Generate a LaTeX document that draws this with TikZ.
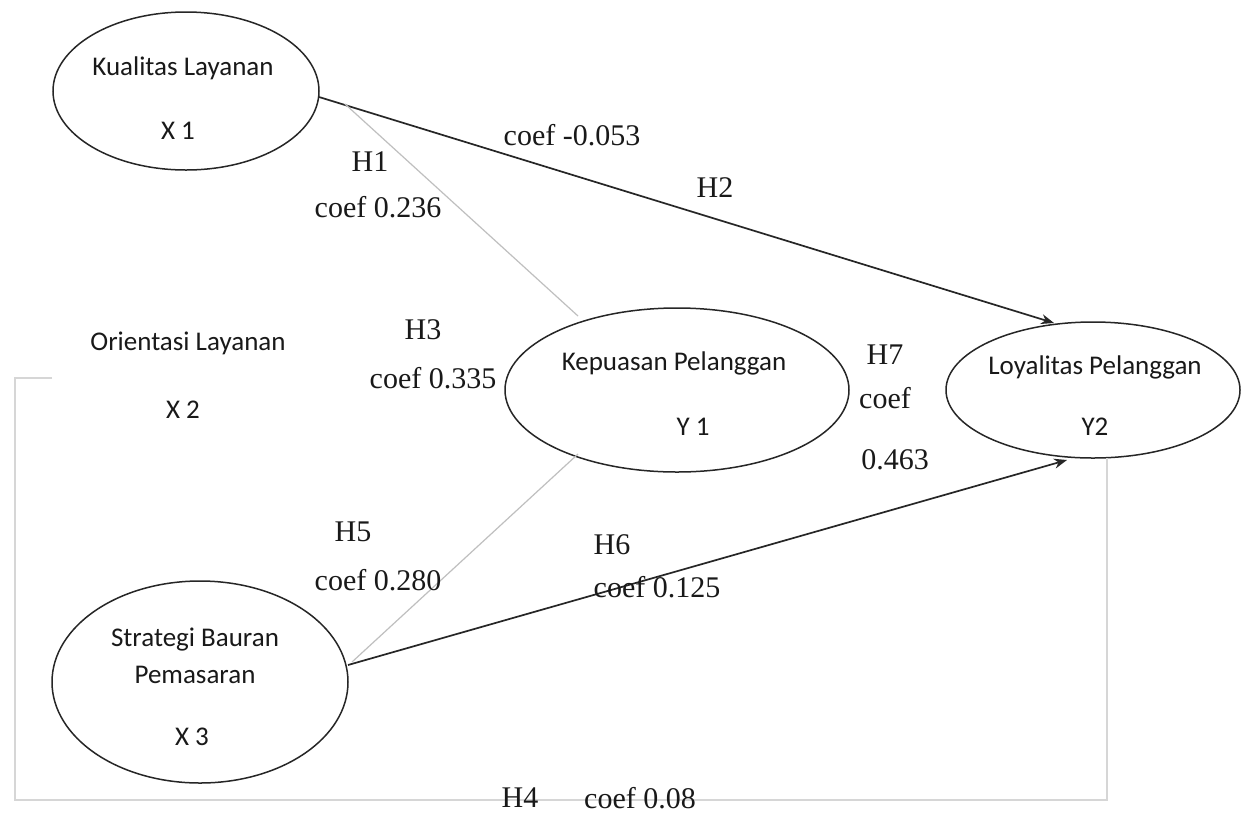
\documentclass[tikz,border=0pt]{standalone}
\usepackage{fontspec}
\setmainfont{Liberation Serif}
\newfontfamily\labelsans{Carlito}
\usetikzlibrary{arrows.meta}
\begin{document}
\begin{tikzpicture}[x=1pt,y=-1pt,
  outline/.style={draw=black!85,line width=1.5pt},
  vartext/.style={font=\labelsans\fontsize{27}{30}\selectfont,text=black!90},
  coeftext/.style={font=\fontsize{30}{33}\selectfont,text=black!90},
  strong/.style={draw=black!85,line width=1.7pt,-{Stealth[length=13pt,width=10pt]}},
  faint/.style={draw=black!25,line width=1.2pt},
  faintpath/.style={draw=black!16,line width=1.2pt}]
\useasboundingbox[fill=white] (0,0) rectangle (1242,815);

% latent constructs
\draw[outline] (186,91) ellipse [x radius=133, y radius=79];
\draw[outline] (677,390) ellipse [x radius=172, y radius=82];
\draw[outline] (1093,390) ellipse [x radius=147, y radius=68];
\draw[outline] (200,682) ellipse [x radius=148, y radius=101];

\node[vartext] (x1t) at (183,68) {Kualitas Layanan};
\node[vartext] (x1) at (178,131) {X 1};
\node[vartext] (x2t) at (188,343) {Orientasi Layanan};
\node[vartext] (x2) at (183,410) {X 2};
\node[vartext] (y1t) at (674,363) {Kepuasan Pelanggan};
\node[vartext] (y1) at (693,427) {Y 1};
\node[vartext] (y2t) at (1095,367) {Loyalitas Pelanggan};
\node[vartext] (y2) at (1095,427) {Y2};
\node[vartext] (x3a) at (195,640) {Strategi Bauran};
\node[vartext] (x3b) at (195,675) {Pemasaran};
\node[vartext] (x3) at (192,737) {X 3};

% anchor points on the ellipse outlines
\coordinate (x1e) at (319,97);
\coordinate (x1s) at (345,104);
\coordinate (y1n) at (578,316);
\coordinate (y1s) at (578,454);
\coordinate (y2n) at (1054,323);
\coordinate (y2s) at (1067,460);
\coordinate (y2b) at (1107,458);
\coordinate (x3e) at (348,665);
\coordinate (x3n) at (352,662);
\coordinate (h4a) at (52,378);
\coordinate (h4b) at (15,378);
\coordinate (h4c) at (15,800);
\coordinate (h4d) at (1107,800);

% paths
\draw[strong] (x1e) -- (y2n);
\draw[strong] (x3e) -- (y2s);
\draw[faint] (x1s) -- (y1n);
\draw[faint] (x3n) -- (y1s);
\draw[faintpath] (h4a) -- (h4b) -- (h4c) -- (h4d) -- (y2b);

% path labels
\node[coeftext] (l2a) at (572,135) {coef -0.053};
\node[coeftext] (l2b) at (715,188) {H2};
\node[coeftext] (l1a) at (370,162) {H1};
\node[coeftext] (l1b) at (378,207) {coef 0.236};
\node[coeftext] (l3a) at (423,330) {H3};
\node[coeftext] (l3b) at (433,378) {coef 0.335};
\node[coeftext] (l7a) at (885,355) {H7};
\node[coeftext] (l7b) at (885,398) {coef};
\node[coeftext] (l7c) at (895,460) {0.463};
\node[coeftext] (l5a) at (353,532) {H5};
\node[coeftext] (l5b) at (378,580) {coef 0.280};
\node[coeftext] (l6a) at (612,545) {H6};
\node[coeftext] (l6b) at (657,587) {coef 0.125};
\node[coeftext] (l4a) at (520,798) {H4};
\node[coeftext] (l4b) at (640,798) {coef 0.08};
\end{tikzpicture}
\end{document}
